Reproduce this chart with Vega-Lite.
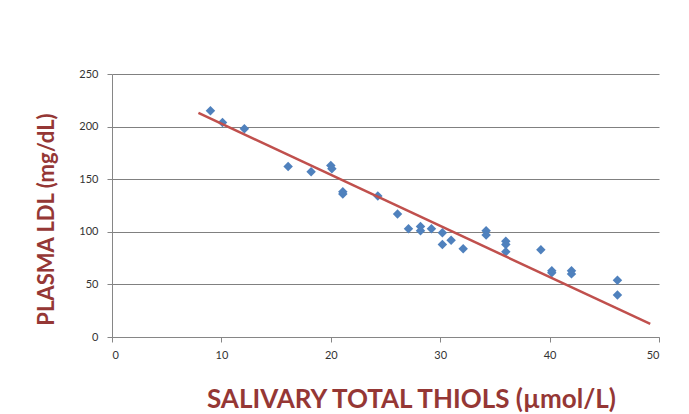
{
  "$schema": "https://vega.github.io/schema/vega-lite/v6.json",
  "autosize": "none",
  "width": 547,
  "height": 263,
  "padding": {"left": 112, "top": 74, "right": 30, "bottom": 77},
  "background": "white",
  "datasets": {
    "points": [
      {"thiols": 9.0, "ldl": 215},
      {"thiols": 10.1, "ldl": 204},
      {"thiols": 12.1, "ldl": 198},
      {"thiols": 16.1, "ldl": 162},
      {"thiols": 18.2, "ldl": 157},
      {"thiols": 20.0, "ldl": 163},
      {"thiols": 20.1, "ldl": 160},
      {"thiols": 21.1, "ldl": 138},
      {"thiols": 21.1, "ldl": 136},
      {"thiols": 24.3, "ldl": 134},
      {"thiols": 26.1, "ldl": 117},
      {"thiols": 27.1, "ldl": 103},
      {"thiols": 28.2, "ldl": 105},
      {"thiols": 28.2, "ldl": 101},
      {"thiols": 29.2, "ldl": 103},
      {"thiols": 30.2, "ldl": 99},
      {"thiols": 30.2, "ldl": 88},
      {"thiols": 31.0, "ldl": 92},
      {"thiols": 32.1, "ldl": 84},
      {"thiols": 34.2, "ldl": 101},
      {"thiols": 34.2, "ldl": 97},
      {"thiols": 36.0, "ldl": 91},
      {"thiols": 36.0, "ldl": 88},
      {"thiols": 36.0, "ldl": 81},
      {"thiols": 39.2, "ldl": 83},
      {"thiols": 40.2, "ldl": 63},
      {"thiols": 40.2, "ldl": 61},
      {"thiols": 42.0, "ldl": 63},
      {"thiols": 42.0, "ldl": 60},
      {"thiols": 46.2, "ldl": 54},
      {"thiols": 46.2, "ldl": 40}
    ],
    "trend": [
      {"thiols": 7.9, "ldl": 213},
      {"thiols": 49.2, "ldl": 12.4}
    ]
  },
  "layer": [
    {
      "data": {"name": "points"},
      "mark": {"type": "point", "shape": "diamond", "filled": true, "size": 90, "color": "#4F81BD", "opacity": 1},
      "encoding": {
        "x": {
          "field": "thiols", "type": "quantitative",
          "scale": {"domain": [0, 50], "nice": false, "zero": false},
          "axis": {
            "values": [0, 10, 20, 30, 40, 50],
            "grid": false,
            "title": "SALIVARY TOTAL THIOLS (µmol/L)",
            "titleFont": "Lato", "titleFontSize": 26, "titleFontWeight": "bold", "titleColor": "#953735",
            "titleX": 299, "titleY": 70, "titleBaseline": "alphabetic",
            "labelFont": "Lato", "labelFontSize": 11, "labelColor": "#333333", "labelPadding": 7,
            "domainColor": "#868686", "tickColor": "#868686", "tickSize": 5
          }
        },
        "y": {
          "field": "ldl", "type": "quantitative",
          "scale": {"domain": [0, 250], "nice": false, "zero": false},
          "axis": {
            "values": [0, 50, 100, 150, 200, 250],
            "grid": true, "gridColor": "#808080", "gridWidth": 1,
            "title": "PLASMA LDL (mg/dL)",
            "titleFont": "Lato", "titleFontSize": 22, "titleFontWeight": "bold", "titleColor": "#953735",
            "titleAngle": -90, "titleX": -59, "titleY": 145, "titleBaseline": "alphabetic", "titleAlign": "center",
            "labelFont": "Lato", "labelFontSize": 11, "labelColor": "#333333", "labelPadding": 9,
            "domainColor": "#868686", "tickColor": "#868686", "tickSize": 5
          }
        }
      }
    },
    {
      "data": {"name": "trend"},
      "mark": {"type": "line", "color": "#C0504D", "strokeWidth": 2.5},
      "encoding": {
        "x": {"field": "thiols", "type": "quantitative"},
        "y": {"field": "ldl", "type": "quantitative"}
      }
    }
  ],
  "config": {"view": {"stroke": null}}
}
